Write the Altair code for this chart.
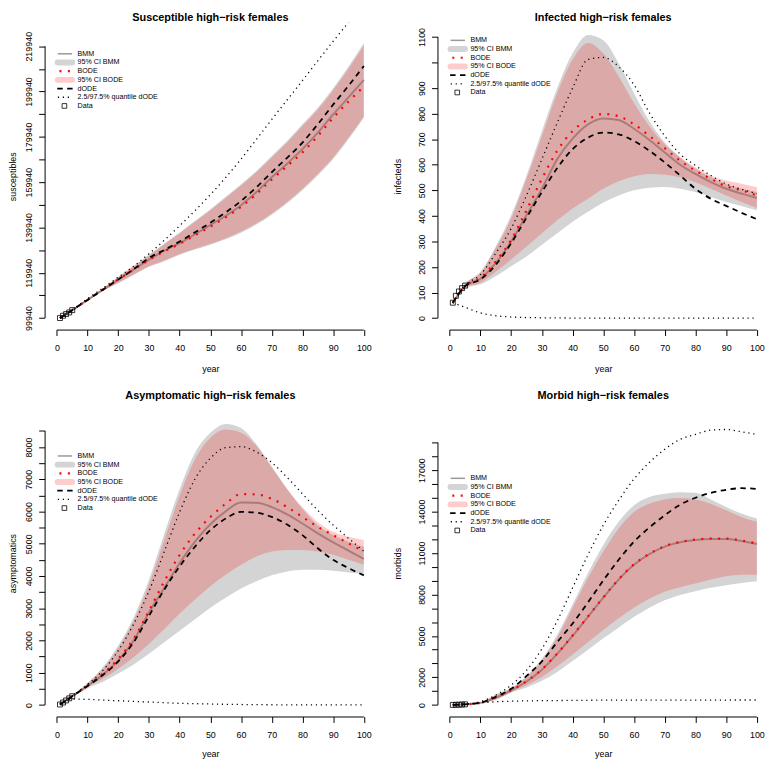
import json
import altair as alt
import pandas as pd

FONT = "Liberation Sans"

YEARS = [1, 5, 10, 15, 20, 25, 30, 35, 40, 45, 50, 55, 60, 65, 70, 75, 80, 85, 90, 95, 100]
DATA_YEARS = [1, 2, 3, 4, 5]
LEGEND_LABELS = ["BMM", "95% CI BMM", "BODE", "95% CI BODE", "dODE",
                 "2.5/97.5% quantile dODE", "Data"]

# ---------------- Susceptible ----------------
S_BMM = [99940, 103435, 107950, 112460, 116980, 121350, 125720, 129650, 133000, 136930, 141010,
         145090, 149750, 155570, 162120, 168090, 174500, 181780, 189800, 197360, 205080]
S_BODE = [99940, 103435, 107950, 112460, 116980, 121350, 125600, 129400, 132700, 136500, 140280,
          144400, 149020, 154700, 161100, 167000, 173050, 180300, 188340, 195500, 202170]
S_DODE = [99940, 103435, 107950, 112460, 116980, 121500, 126450, 130000, 133730, 137800, 142030,
          146600, 151640, 157700, 164310, 170700, 177410, 185500, 194160, 202500, 211200]
S_QHI = [99940, 103600, 108530, 113200, 118000, 122800, 128340, 134300, 140720, 147400, 154410,
         162000, 170130, 178800, 187610, 196200, 204790, 213500, 222120, 230500, 239000]
S_RHI = [99940, 103600, 108200, 112900, 118000, 122700, 127610, 132560, 137370, 142460, 147560,
         152950, 158480, 164310, 170860, 177410, 184700, 191980, 200500, 210000, 220380]
S_RLO = [99940, 103300, 107700, 112000, 115520, 119165, 122800, 125350, 128190, 130520, 132710,
         135180, 138100, 141740, 146100, 151200, 157030, 163580, 170860, 179600, 189070]
S_GHI = [99940, 103650, 108300, 113000, 118150, 122900, 127850, 132850, 137700, 142850, 148000,
         153450, 159000, 164900, 171500, 178100, 185450, 192800, 201400, 211000, 221400]
S_GLO = [99940, 103250, 107600, 111850, 115350, 118950, 122550, 125050, 127850, 130150, 132300,
         134750, 137600, 141200, 145550, 150600, 156400, 162900, 170150, 178900, 188400]
S_DATA = [99940, 100960, 101690, 102420, 103435]

# ---------------- Infected ----------------
I_BMM = [60, 125, 154, 216, 300, 403, 506, 622, 702, 758, 781, 775, 741, 697, 648, 600, 564, 532, 506, 487, 470]
I_BODE = [60, 125, 158, 222, 306, 422, 545, 655, 732, 777, 799, 790, 758, 713, 665, 616, 577, 545, 516, 500, 480]
I_DODE = [60, 125, 151, 209, 293, 393, 493, 587, 661, 706, 726, 719, 693, 655, 609, 558, 506, 467, 439, 412, 387]
I_QHI = [60, 128, 170, 254, 351, 480, 622, 764, 900, 1012, 1020, 984, 913, 803, 713, 642, 597, 558, 525, 504, 487]
I_QLO = [60, 42, 20, 9, 4, 2, 1, 0.5, 0, 0, 0, 0, 0, 0, 0, 0, 0, 0, 0, 0, 0]
I_RHI = [60, 133, 177, 274, 390, 545, 713, 881, 1012, 1077, 1036, 945, 842, 751, 680, 629, 590, 558, 538, 526, 513]
I_RLO = [60, 118, 138, 181, 229, 280, 332, 383, 429, 467, 506, 535, 555, 564, 561, 551, 532, 506, 480, 454, 431]
I_GHI = [60, 135, 181, 280, 403, 558, 732, 901, 1036, 1108, 1087, 997, 880, 771, 687, 629, 584, 551, 525, 506, 493]
I_GLO = [60, 116, 132, 164, 203, 241, 287, 332, 377, 416, 452, 480, 500, 510, 513, 506, 493, 474, 454, 439, 422]
I_DATA = [60, 87, 104, 117, 127]

# ---------------- Asymptomatic ----------------
A_BMM = [15, 270, 593, 941, 1381, 1995, 2864, 3632, 4399, 5064, 5606, 6005, 6280, 6270, 6138, 5913, 5627, 5320, 5043, 4788, 4532]
A_BODE = [15, 270, 614, 972, 1432, 2046, 2916, 3836, 4655, 5320, 5831, 6240, 6540, 6530, 6394, 6138, 5831, 5524, 5268, 5013, 4757]
A_DODE = [15, 270, 590, 930, 1350, 1944, 2762, 3581, 4297, 4910, 5422, 5780, 5990, 5964, 5831, 5596, 5268, 4859, 4501, 4245, 4020]
A_QHI = [15, 280, 640, 1074, 1688, 2506, 3529, 4757, 5985, 7008, 7652, 7979, 8010, 7846, 7519, 7059, 6547, 6036, 5580, 5170, 4770]
A_QLO = [15, 180, 174, 150, 130, 110, 92, 70, 51, 40, 30, 20, 14, 9, 6, 4, 3, 2, 1, 0, 0]
A_RHI = [15, 285, 665, 1125, 1770, 2609, 3734, 5115, 6496, 7621, 8286, 8542, 8440, 8031, 7366, 6701, 6138, 5678, 5371, 5217, 5115]
A_RLO = [15, 255, 563, 818, 1125, 1483, 1893, 2353, 2834, 3274, 3683, 4041, 4348, 4604, 4757, 4808, 4808, 4757, 4655, 4501, 4348]
A_GHI = [15, 290, 685, 1176, 1841, 2711, 3887, 5320, 6701, 7826, 8440, 8716, 8593, 8082, 7396, 6701, 6087, 5575, 5268, 5064, 4910]
A_GLO = [15, 250, 512, 716, 972, 1258, 1586, 1944, 2302, 2660, 3018, 3325, 3611, 3836, 4020, 4143, 4194, 4194, 4164, 4112, 4061]
A_DATA = [15, 75, 140, 205, 270]

# ---------------- Morbid ----------------
M_BMM = [5, 45, 150, 530, 1050, 1700, 2550, 3700, 5000, 6376, 7761, 9074, 10149, 10913, 11462, 11772, 11940, 12012, 12012, 11868, 11653]
M_BODE = [5, 45, 152, 540, 1065, 1720, 2580, 3730, 5030, 6400, 7790, 9100, 10180, 10940, 11490, 11800, 11970, 12040, 12040, 11900, 11680]
M_DODE = [5, 45, 160, 590, 1170, 2100, 3150, 4550, 5900, 7420, 9020, 10507, 11821, 12847, 13731, 14495, 14997, 15355, 15570, 15690, 15641]
M_QHI = [5, 60, 240, 716, 1433, 2507, 4060, 6089, 8477, 10865, 13014, 14806, 16358, 17552, 18507, 19223, 19582, 19892, 19940, 19773, 19582]
M_QLO = [5, 45, 150, 230, 270, 295, 310, 320, 330, 338, 345, 348, 350, 352, 354, 355, 356, 357, 357, 358, 358]
M_RHI = [5, 48, 180, 716, 1194, 2030, 3224, 4895, 7045, 9194, 11104, 12776, 13970, 14567, 14877, 14973, 14877, 14567, 14089, 13612, 13253]
M_RLO = [5, 42, 140, 406, 955, 1433, 2030, 2794, 3654, 4537, 5421, 6280, 7045, 7689, 8191, 8525, 8788, 9074, 9313, 9433, 9433]
M_GHI = [5, 49, 185, 764, 1242, 2101, 3343, 5086, 7284, 9552, 11582, 13253, 14447, 15044, 15283, 15403, 15355, 14877, 14328, 13851, 13492]
M_GLO = [5, 41, 135, 358, 884, 1266, 1743, 2388, 3176, 3988, 4824, 5612, 6376, 7045, 7570, 7952, 8239, 8477, 8668, 8836, 8955]
M_DATA = [5, 10, 20, 30, 45]

# ---------------- axis ticks ----------------
S_TICKS = [99940 + 10000 * k for k in range(13)]
S_LABELS = [99940 + 20000 * k for k in range(7)]
I_TICKS = list(range(0, 1101, 100))
I_LABELS = [0, 100, 200, 300, 400, 500, 600, 700, 800, 900, 1100]
A_TICKS = list(range(0, 8501, 500))
A_LABELS = list(range(0, 8001, 1000))
M_TICKS = list(range(0, 19001, 1000))
M_LABELS = [0, 2000, 5000, 8000, 11000, 14000, 17000]
X_TICKS = list(range(0, 101, 10))

H = 310
W_LEFT = 335
W_RIGHT = 322.8
ROW_GAP = 8.78

GRAY_BAND = "#d4d4d4"
GRAY_LINE = "#999999"
RED = "#ff0000"


def one(**kw):
    return alt.Chart(pd.DataFrame({k: [v] for k, v in kw.items()}))


def panel(title, ytitle, s, data_vals, ydomain, yticks, ylabels, xdomain, width,
          legend_y0, ytitle_x, title_base, xtitle_y, anchor=False):
    cols = {"year": YEARS}
    cols.update({k: v for k, v in s.items() if v is not None})
    df = pd.DataFrame(cols)
    xs = alt.Scale(domain=xdomain, nice=False, zero=False)
    ys = alt.Scale(domain=ydomain, nice=False, zero=False)
    xaxis = alt.Axis(values=X_TICKS, domain=False, grid=False, tickSize=6, tickColor="black",
                     tickWidth=1, labelFontSize=9, labelFont=FONT, labelColor="black",
                     labelPadding=8, labelAngle=0, labelFlush=False, labelOverlap=False,
                     titleFontSize=9, titleFont=FONT, titleFontWeight="normal", titleColor="black",
                     titleX=167.5, titleY=xtitle_y, titleAlign="center", titleBaseline="alphabetic")
    yaxis = alt.Axis(values=yticks, format="d",
                     labelExpr="indexof(" + json.dumps(ylabels) + ", datum.value) >= 0 ? datum.label : ''",
                     domain=False, grid=False, tickSize=6, tickColor="black", tickWidth=1,
                     labelFontSize=9, labelFont=FONT, labelColor="black", labelPadding=5.5,
                     labelAngle=270, labelAlign="center", labelBaseline="bottom",
                     labelOverlap=False, labelFlush=False,
                     titleFontSize=9, titleFont=FONT, titleFontWeight="normal", titleColor="black",
                     titleAngle=270, titleX=ytitle_x, titleY=H / 2, titleAlign="center",
                     titleBaseline="alphabetic")

    def X(f):
        return alt.X(f, type="quantitative", scale=xs, axis=xaxis, title="year")

    def Y(f):
        return alt.Y(f, type="quantitative", scale=ys, axis=yaxis, title=ytitle)

    base = alt.Chart(df)
    layers = [
        base.mark_area(color=GRAY_BAND, interpolate="monotone").encode(
            x=X("year"), y=Y("glo"), y2=alt.Y2("ghi")),
        base.mark_line(color=GRAY_LINE, strokeWidth=2, interpolate="monotone").encode(
            x=X("year"), y=Y("bmm")),
        base.mark_area(color=RED, opacity=0.2, interpolate="monotone").encode(
            x=X("year"), y=Y("rlo"), y2=alt.Y2("rhi")),
        base.mark_line(color=RED, strokeWidth=2.2, strokeDash=[2, 6.5], interpolate="monotone").encode(
            x=X("year"), y=Y("bode")),
        base.mark_line(color="black", strokeWidth=1.8, strokeDash=[5.5, 4.5], interpolate="monotone").encode(
            x=X("year"), y=Y("dode")),
        base.mark_line(color="black", strokeWidth=1.3, strokeDash=[1.2, 3.8], interpolate="monotone",
                       clip=True).encode(x=X("year"), y=Y("qhi")),
    ]
    if s.get("qlo") is not None:
        layers.append(base.mark_line(color="black", strokeWidth=1.3, strokeDash=[1.2, 3.8],
                                     interpolate="monotone").encode(x=X("year"), y=Y("qlo")))
    layers.append(
        alt.Chart(pd.DataFrame({"year": DATA_YEARS, "v": data_vals})).mark_point(
            shape="square", filled=False, color="black", size=25, strokeWidth=0.8, opacity=1
        ).encode(x=X("year"), y=Y("v")))
    # axis lines (R style: from first to last tick)
    layers.append(one(a=X_TICKS[0], b=X_TICKS[-1]).mark_rule(color="black", strokeWidth=1).encode(
        x=X("a"), x2=alt.X2("b"), y=alt.value(H + 0.5)))
    layers.append(one(a=yticks[0], b=yticks[-1]).mark_rule(color="black", strokeWidth=1).encode(
        y=Y("a"), y2=alt.Y2("b"), x=alt.value(0.5)))

    # legend
    for i, lab in enumerate(LEGEND_LABELS):
        py = legend_y0 + ROW_GAP * i
        layers.append(one(t=lab).mark_text(align="left", baseline="middle", fontSize=7.2, font=FONT,
                                           color="black").encode(
            x=alt.value(33.3), y=alt.value(py), text="t:N"))
        if i == 0:
            m = one(k=0).mark_rule(color=GRAY_LINE, strokeWidth=1.5)
            layers.append(m.encode(x=alt.value(13.3), x2=alt.value(27.8), y=alt.value(py)))
        elif i == 1:
            m = one(k=0).mark_rule(color=GRAY_BAND, strokeWidth=6, strokeCap="round")
            layers.append(m.encode(x=alt.value(13.2), x2=alt.value(27.8), y=alt.value(py)))
        elif i == 2:
            m = one(k=0).mark_rule(color=RED, strokeWidth=2.2, strokeDash=[2, 6.5])
            layers.append(m.encode(x=alt.value(15), x2=alt.value(28), y=alt.value(py)))
        elif i == 3:
            m = one(k=0).mark_rule(color=RED, opacity=0.2, strokeWidth=6, strokeCap="round")
            layers.append(m.encode(x=alt.value(13.2), x2=alt.value(27.8), y=alt.value(py)))
        elif i == 4:
            m = one(k=0).mark_rule(color="black", strokeWidth=1.8, strokeDash=[5.5, 4.5])
            layers.append(m.encode(x=alt.value(12.8), x2=alt.value(28.3), y=alt.value(py)))
        elif i == 5:
            m = one(k=0).mark_rule(color="black", strokeWidth=1.3, strokeDash=[1.2, 3.8])
            layers.append(m.encode(x=alt.value(13.4), x2=alt.value(25), y=alt.value(py)))
        else:
            m = one(k=0).mark_point(shape="square", filled=False, color="black", size=22,
                                    strokeWidth=0.8, opacity=1)
            layers.append(m.encode(x=alt.value(20), y=alt.value(py)))

    # panel title as a text mark (R main title)
    layers.append(one(t=title).mark_text(align="center", baseline="alphabetic", fontSize=11,
                                         fontWeight="bold", font=FONT, color="black").encode(
        x=alt.value(167.5), y=alt.value(title_base), text="t:N"))

    if anchor:
        layers.append(one(k=0).mark_rect(opacity=0).encode(
            x=alt.value(-37), x2=alt.value(-36), y=alt.value(-11), y2=alt.value(-10)))

    return alt.layer(*layers).properties(width=width, height=H)


p1 = panel("Susceptible high\u2212risk females", "susceptibles",
           dict(bmm=S_BMM, bode=S_BODE, dode=S_DODE, qhi=S_QHI, qlo=None,
                glo=S_GLO, ghi=S_GHI, rlo=S_RLO, rhi=S_RHI),
           S_DATA, [94842, 230280], S_TICKS, S_LABELS, [-4, 104], W_LEFT,
           31.3, -29, -2, 42.5, anchor=True)
p2 = panel("Infected high\u2212risk females", "infecteds",
           dict(bmm=I_BMM, bode=I_BODE, dode=I_DODE, qhi=I_QHI, qlo=I_QLO,
                glo=I_GLO, ghi=I_GHI, rlo=I_RLO, rhi=I_RHI),
           I_DATA, [-45.2, 1155.5], I_TICKS, I_LABELS, [-4, 100], W_RIGHT,
           17.7, -37, -2, 42.5)
p3 = panel("Asymptomatic high\u2212risk females", "asymptomatics",
           dict(bmm=A_BMM, bode=A_BODE, dode=A_DODE, qhi=A_QHI, qlo=A_QLO,
                glo=A_GLO, ghi=A_GHI, rlo=A_RLO, rhi=A_RHI),
           A_DATA, [-358, 9156], A_TICKS, A_LABELS, [-4, 104], W_LEFT,
           46.7, -29, -11, 40.7)
p4 = panel("Morbid high\u2212risk females", "morbids",
           dict(bmm=M_BMM, bode=M_BODE, dode=M_DODE, qhi=M_QHI, qlo=M_QLO,
                glo=M_GLO, ghi=M_GHI, rlo=M_RLO, rhi=M_RHI),
           M_DATA, [-836, 21369], M_TICKS, M_LABELS, [-4, 100], W_RIGHT,
           69.3, -37, -11, 40.7)

chart = alt.concat(p1, p2, p3, p4, columns=2, spacing={"row": 81, "column": 62},
                   bounds="flush").properties(padding=0).configure_view(strokeWidth=0)

chart.save("out.html", embed_options={"renderer": "svg", "actions": False})
